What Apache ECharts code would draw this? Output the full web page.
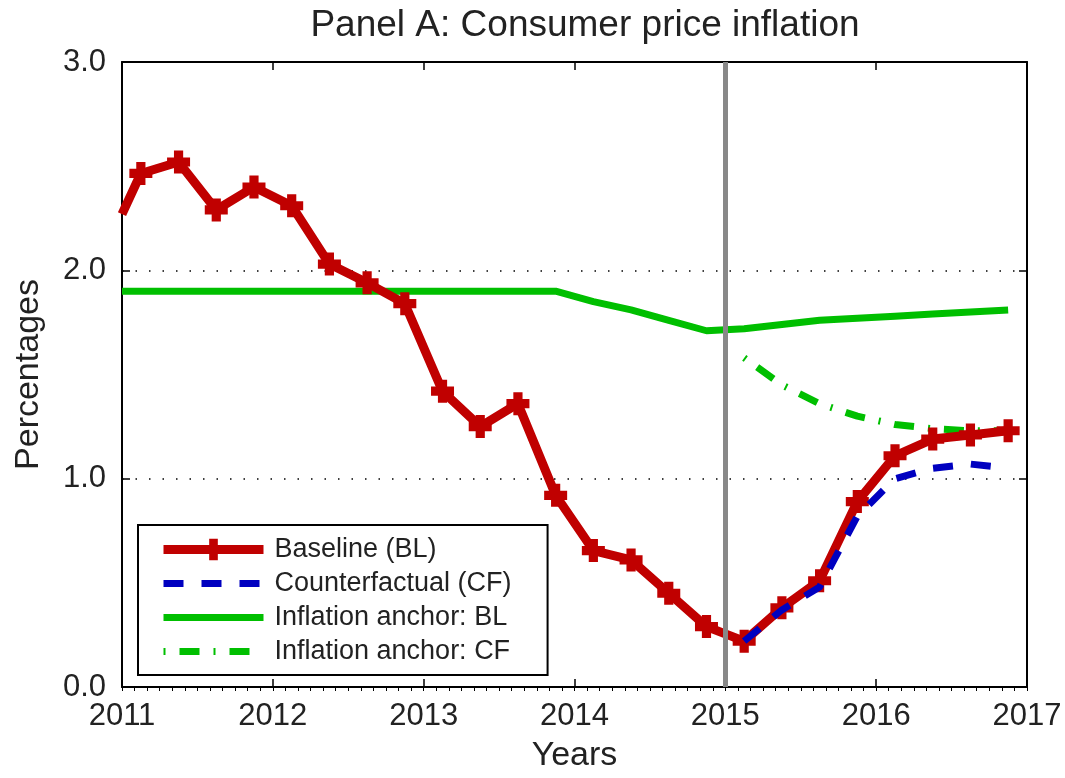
<!DOCTYPE html>
<html>
<head>
<meta charset="utf-8">
<script src="https://cdn.jsdelivr.net/npm/echarts@6/dist/echarts.min.js"></script>
<style>
  html, body { margin: 0; padding: 0; background: #fff; }
  #chart { width: 1065px; height: 778px; }
</style>
</head>
<body>
<div id="chart"></div>
<script>
// quarterly observation dates (mid-quarter); the first value is read at the left edge
var quarters = [2011.0, 2011.125, 2011.375, 2011.625, 2011.875, 2012.125, 2012.375, 2012.625, 2012.875,
  2013.125, 2013.375, 2013.625, 2013.875, 2014.125, 2014.375, 2014.625, 2014.875,
  2015.125, 2015.375, 2015.625, 2015.875, 2016.125, 2016.375, 2016.625, 2016.875];

var baseline = [2.27, 2.465, 2.52, 2.29, 2.40, 2.31, 2.03, 1.94, 1.84, 1.42, 1.25, 1.36, 0.92,
  0.655, 0.61, 0.45, 0.29, 0.22, 0.38, 0.51, 0.89, 1.11, 1.19, 1.21, 1.23];
var anchorBL = [1.9, 1.9, 1.9, 1.9, 1.9, 1.9, 1.9, 1.9, 1.9, 1.9, 1.9, 1.9, 1.9,
  1.85, 1.81, 1.76, 1.71, 1.72, 1.74, 1.76, 1.77, 1.78, 1.79, 1.80, 1.81];
// counterfactual paths start in 2015Q1
var counterfactual = [0.22, 0.37, 0.48, 0.82, 1.00, 1.05, 1.07, 1.05];
var anchorCF = [1.58, 1.45, 1.36, 1.30, 1.26, 1.24, 1.23, 1.23];
var cfStart = 17;
var breakYear = 2015;

var yTicks = ['0.0', '1.0', '2.0', '3.0'];
var names = ['Baseline (BL)', 'Counterfactual (CF)', 'Inflation anchor: BL', 'Inflation anchor: CF'];

function pairs(xs, ys) {
  return ys.map(function(v, i) { return [xs[i], v]; });
}

var red = '#c00000', blue = '#0000c0', green = '#00bf00', gray = '#888888';
var font = 'Liberation Sans, Arial, Helvetica, sans-serif';
var plus = 'path://M3,0H7V3H10V7H7V10H3V7H0V3H3Z';
var frame = { color: '#000', width: 2 };
var tick = { color: '#000', width: 1.5 };

var chart = echarts.init(document.getElementById('chart'), null, { renderer: 'canvas' });

chart.setOption({
  backgroundColor: '#fff',
  animation: false,
  title: {
    text: 'Panel A: Consumer price inflation',
    left: 580, top: 2, textAlign: 'center',
    textStyle: { fontFamily: font, fontSize: 37, fontWeight: 'normal', color: '#222' }
  },
  grid: { left: 122, right: 38, top: 62, bottom: 88 },
  legend: {
    orient: 'vertical',
    left: 138, top: 525,
    padding: [11, 36, 10, 21],
    itemGap: 7,
    itemWidth: 100,
    itemHeight: 27,
    backgroundColor: '#fff',
    borderColor: '#000',
    borderWidth: 2,
    borderRadius: 0,
    lineStyle: { width: 'inherit' },
    textStyle: { fontFamily: font, fontSize: 27, color: '#222', padding: [0, 0, 0, 6] },
    data: [
      { name: names[0] },
      { name: names[1], itemStyle: { opacity: 0 } },
      { name: names[2], itemStyle: { opacity: 0 } },
      { name: names[3], itemStyle: { opacity: 0 } }
    ]
  },
  xAxis: [
    {
      type: 'value', position: 'bottom', min: 2011, max: 2017, interval: 1,
      name: 'Years', nameLocation: 'middle', nameGap: 52,
      nameTextStyle: { fontFamily: font, fontSize: 34, color: '#222' },
      axisLine: { onZero: false, lineStyle: frame },
      axisTick: { inside: true, length: 8, lineStyle: tick },
      axisLabel: {
        fontFamily: font, fontSize: 31, color: '#222', margin: 14,
        formatter: function(v) { return String(v); }
      },
      splitLine: { show: false }
    },
    {
      type: 'value', position: 'top', min: 2011, max: 2017, interval: 1,
      axisLine: { onZero: false, lineStyle: frame },
      axisTick: { inside: true, length: 8, lineStyle: tick },
      axisLabel: { show: false },
      splitLine: { show: false }
    },
    {
      type: 'value', position: 'bottom', min: 2011, max: 2017, interval: 1,
      axisLine: { show: false, onZero: false },
      axisTick: { inside: false, length: 4, lineStyle: { color: '#000', width: 1 } },
      minorTick: { show: true, splitNumber: 12, length: 4, lineStyle: { color: '#000', width: 1 } },
      axisLabel: { show: false },
      splitLine: { show: false }
    }
  ],
  yAxis: [
    {
      type: 'value', min: 0, max: 3, interval: 1,
      name: 'Percentages', nameLocation: 'middle', nameGap: 76,
      nameTextStyle: { fontFamily: font, fontSize: 34, color: '#222' },
      axisLine: { onZero: false, lineStyle: frame },
      axisTick: { inside: true, length: 8, lineStyle: tick },
      axisLabel: {
        fontFamily: font, fontSize: 31, color: '#222', margin: 16,
        formatter: function(v) { return yTicks[Math.round(v)]; }
      },
      splitLine: {
        show: true,
        lineStyle: { color: '#000', width: 1.5, type: [1.5, 12] }
      }
    },
    {
      type: 'value', position: 'right', min: 0, max: 3, interval: 1,
      axisLine: { show: true, onZero: false, lineStyle: frame },
      axisTick: { show: true, inside: true, length: 8, lineStyle: tick },
      axisLabel: { show: false },
      splitLine: { show: false }
    }
  ],
  series: [
    {
      name: names[2],
      type: 'line',
      data: pairs(quarters, anchorBL),
      symbol: 'none',
      lineStyle: { color: green, width: 7 },
      itemStyle: { color: green },
      z: 2
    },
    {
      name: names[3],
      type: 'line',
      data: pairs(quarters.slice(cfStart), anchorCF),
      symbol: 'none',
      lineStyle: { color: green, width: 7, type: [20, 14, 2, 14], dashOffset: 34 },
      itemStyle: { color: green },
      z: 3
    },
    {
      name: names[0],
      type: 'line',
      data: pairs(quarters, baseline).map(function(p, i) {
        return i === 0 ? { value: p, symbol: 'none' } : p;
      }),
      symbol: plus,
      symbolSize: 23,
      lineStyle: { color: red, width: 9 },
      itemStyle: { color: red },
      z: 4,
      markLine: {
        silent: true,
        symbol: 'none',
        label: { show: false },
        lineStyle: { color: gray, width: 5, type: 'solid' },
        data: [{ xAxis: breakYear }]
      }
    },
    {
      name: names[1],
      type: 'line',
      data: pairs(quarters.slice(cfStart), counterfactual),
      symbol: 'none',
      lineStyle: { color: blue, width: 7, type: [20, 18] },
      itemStyle: { color: blue },
      z: 5
    }
  ]
});

window.addEventListener('resize', function() { chart.resize(); });
</script>
</body>
</html>
